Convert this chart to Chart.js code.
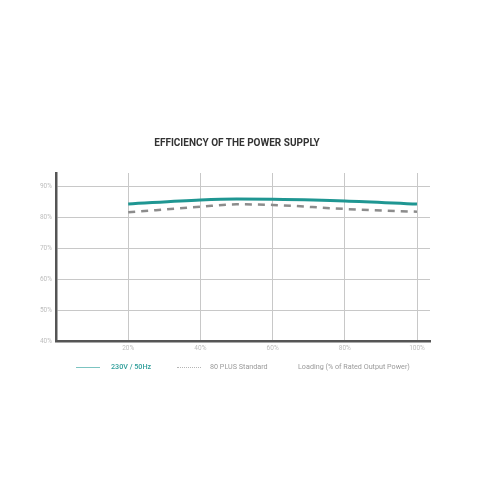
<!DOCTYPE html>
<html>
<head>
<meta charset="utf-8">
<script src="https://cdn.jsdelivr.net/npm/chart.js@4.4.0/dist/chart.umd.min.js"></script>
<style>
  html, body { margin: 0; padding: 0; background: #fff; }
  #wrap { position: relative; width: 500px; height: 500px; }
  #myChart { position: absolute; left: 0; top: 0; }
  #title { position: absolute; left: 0; width: 474px; top: 136px; text-align: center; font-family: Roboto, sans-serif; font-weight: bold; font-size: 10px; color: #333; line-height: 14px; }
  .legend { position: absolute; top: 361px; font-family: Roboto, sans-serif; font-size: 7.2px; color: #9a9a9a; white-space: nowrap; line-height: 12px; }
  .swatch { position: absolute; top: 367px; width: 24px; height: 0; }
</style>
</head>
<body>
<div id="wrap">
  <canvas id="myChart" width="500" height="500"></canvas>
  <div id="title">EFFICIENCY OF THE POWER SUPPLY</div>
  <div class="swatch" style="left:76px;border-top:1px solid #7cc4c1;"></div>
  <div class="legend" style="left:111px;color:#2f9e9a;font-weight:500;">230V / 50Hz</div>
  <div class="swatch" style="left:177px;border-top:1px dotted #b5b5b5;"></div>
  <div class="legend" style="left:210px;">80 PLUS Standard</div>
  <div class="legend" style="left:298px;">Loading (% of Rated Output Power)</div>
</div>
<script>
// load points (% of rated output) and efficiency readings (%)
const loadPoints = [20, 40, 50, 60, 80, 100];
const efficiency230 = [84.2, 85.5, 85.8, 85.7, 85.2, 84.2];
const plusStandard = [81.5, 83.3, 84.1, 83.9, 82.6, 81.7];
const seriesNames = ['230V / 50Hz', '80 PLUS Standard'];

function toPoints(vals) {
    return loadPoints.map((x, i) => ({ x: x, y: vals[i] }));
}

const data = {
    datasets: [{
        label: seriesNames[0],
        data: toPoints(efficiency230),
        borderColor: '#1f9692',
        borderWidth: 3,
        pointRadius: 0,
        cubicInterpolationMode: 'monotone'
    }, {
        label: seriesNames[1],
        data: toPoints(plusStandard),
        borderColor: '#8c8c8c',
        borderWidth: 2.5,
        borderDash: [7, 6],
        pointRadius: 0,
        cubicInterpolationMode: 'monotone'
    }]
};

const tickFont = { family: 'Roboto', size: 6.5 };

const config = {
    type: 'line',
    data: data,
    options: {
        responsive: false,
        animation: false,
        layout: {
            padding: { top: 173, right: 70, bottom: 139, left: 0 }
        },
        plugins: {
            legend: { display: false },
            tooltip: { enabled: false }
        },
        scales: {
            x: {
                type: 'linear',
                min: 0,
                max: 103.6,
                afterFit: (s) => { s.height = 20; },
                border: { color: '#555', width: 2.5 },
                grid: {
                    color: (c) => c.tick && c.tick.value === 0 ? 'rgba(0,0,0,0)' : '#c8c8c8',
                    lineWidth: 1,
                    drawTicks: false
                },
                ticks: {
                    stepSize: 20,
                    includeBounds: false,
                    padding: 3,
                    color: '#bdbdbd',
                    font: tickFont,
                    maxRotation: 0,
                    callback: (v) => v === 0 ? '' : v + '%'
                }
            },
            y: {
                min: 40,
                max: 94.2,
                afterFit: (s) => { s.width = 56; },
                border: { color: '#555', width: 2.5 },
                grid: {
                    color: (c) => c.tick && c.tick.value === 40 ? 'rgba(0,0,0,0)' : '#c8c8c8',
                    lineWidth: 1,
                    drawTicks: false
                },
                ticks: {
                    stepSize: 10,
                    includeBounds: false,
                    padding: 4,
                    color: '#bdbdbd',
                    font: tickFont,
                    callback: (v) => v + '%'
                }
            }
        }
    }
};

var myChart = new Chart(document.getElementById('myChart'), config);
</script>
</body>
</html>
